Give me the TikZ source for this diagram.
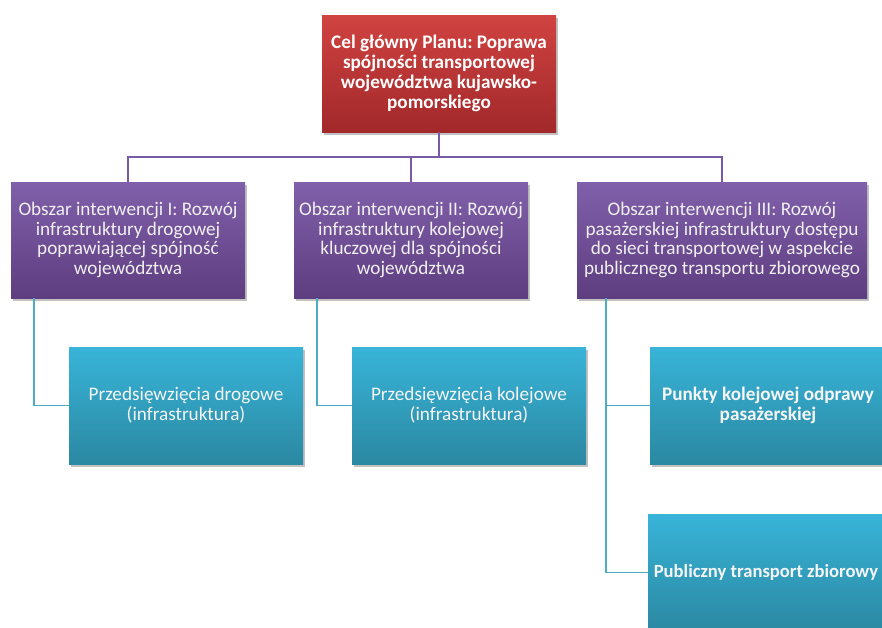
\documentclass[tikz,border=0pt]{standalone}
\usepackage{fontspec}
\setmainfont{Carlito}
\frenchspacing
\usetikzlibrary{shadows}
\definecolor{goalTop}{HTML}{D04341}
\definecolor{goalBot}{HTML}{A2282A}
\definecolor{areaTop}{HTML}{8060AA}
\definecolor{areaBot}{HTML}{5E3D80}
\definecolor{taskTop}{HTML}{38B4D8}
\definecolor{taskBot}{HTML}{2B88A2}
\definecolor{areaLine}{HTML}{7A5AA4}
\definecolor{taskLine}{HTML}{4BACC6}
\newcommand{\boxfont}{\fontsize{19.2}{19.8}\selectfont\frenchspacing}
\begin{document}
\begin{tikzpicture}[x=1pt,y=-1pt,
  box/.style={rectangle, draw=none, align=center, inner sep=0pt,
    font=\boxfont, text=white,
    drop shadow={shadow xshift=1.5pt, shadow yshift=-3pt, opacity=0.35, fill=black!70}},
  goal/.style={box, top color=goalTop, bottom color=goalBot, font=\boxfont\bfseries},
  area/.style={box, top color=areaTop, bottom color=areaBot, text=white!94!black},
  task/.style={box, top color=taskTop, bottom color=taskBot, text=white!96!black},
  taskb/.style={task, font=\boxfont\bfseries},
  arealine/.style={draw=areaLine, line width=1.6pt},
  taskline/.style={draw=taskLine, line width=1.6pt}]
\useasboundingbox (0,0) rectangle (882,627);
\clip (0,0) rectangle (882,627);

% main goal
\node[goal, minimum width=234pt, minimum height=117pt] (goal) at (439,73.5)
  {Cel główny Planu: Poprawa\\spójności transportowej\\województwa kujawsko-\\pomorskiego};

% intervention areas
\node[area, minimum width=234pt, minimum height=116pt] (a1) at (128,240)
  {Obszar interwencji I: Rozwój\\infrastruktury drogowej\\poprawiającej spójność\\województwa};
\node[area, minimum width=234pt, minimum height=116pt] (a2) at (411,240)
  {Obszar interwencji II: Rozwój\\infrastruktury kolejowej\\kluczowej dla spójności\\województwa};
\node[area, minimum width=290pt, minimum height=116pt] (a3) at (722,240)
  {Obszar interwencji III: Rozwój\\pasażerskiej infrastruktury dostępu\\do sieci transportowej w aspekcie\\publicznego transportu zbiorowego};

% projects
\node[task, minimum width=234pt, minimum height=117pt] (t1) at (186,405.5)
  {Przedsięwzięcia drogowe\\(infrastruktura)};
\node[task, minimum width=234pt, minimum height=117pt] (t2) at (469,405.5)
  {Przedsięwzięcia kolejowe\\(infrastruktura)};
\node[taskb, minimum width=236pt, minimum height=117pt] (t3) at (768,405.5)
  {Punkty kolejowej odprawy\\pasażerskiej};
\node[taskb, minimum width=236pt, minimum height=117pt, font=\fontsize{18.6}{19.8}\selectfont\bfseries] (t4) at (766,572.5)
  {Publiczny transport zbiorowy};

% connectors from the goal to the areas
\draw[arealine] (goal.south) -- ++(0,25) coordinate (bus);
\draw[arealine] (bus) -| (a1.north);
\draw[arealine] (bus) -| (a2.north);
\draw[arealine] (bus) -| (a3.north);

% connectors from the areas to the projects
\draw[taskline] ([xshift=23pt]a1.south west) |- (t1.west);
\draw[taskline] ([xshift=23pt]a2.south west) |- (t2.west);
\draw[taskline] ([xshift=29pt]a3.south west) |- (t3.west);
\draw[taskline] ([xshift=29pt]a3.south west) |- (t4.west);
\end{tikzpicture}
\end{document}
